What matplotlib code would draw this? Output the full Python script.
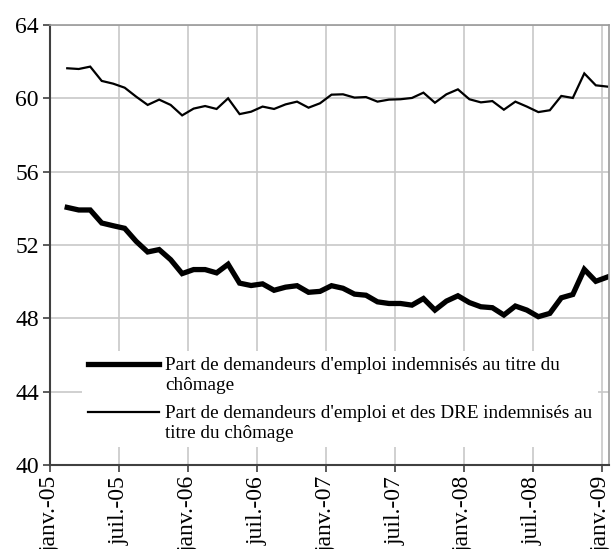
import numpy as np
import matplotlib
matplotlib.use("Agg")
import matplotlib.pyplot as plt
from matplotlib.legend_handler import HandlerLine2D

plt.rcParams['font.family'] = ['Liberation Serif', 'DejaVu Serif']

# mois depuis janv.-05 (1 = févr.-05 ... 48 = janv.-09)
mois = np.arange(1, 49)

part_indemnises = [
    54.05, 53.91, 53.91, 53.20, 53.05, 52.91, 52.20, 51.62, 51.75, 51.20,
    50.44, 50.66, 50.66, 50.48, 50.95, 49.92, 49.79, 49.88, 49.53, 49.70,
    49.78, 49.42, 49.47, 49.78, 49.64, 49.32, 49.26, 48.90, 48.81, 48.81,
    48.72, 49.08, 48.45, 48.94, 49.23, 48.86, 48.63, 48.58, 48.18, 48.67,
    48.45, 48.09, 48.27, 49.12, 49.30, 50.67, 50.02, 50.25,
]

part_indemnises_dre = [
    61.64, 61.60, 61.73, 60.95, 60.80, 60.58, 60.09, 59.64, 59.93, 59.64,
    59.07, 59.44, 59.58, 59.42, 60.00, 59.14, 59.27, 59.55, 59.42, 59.67,
    59.82, 59.49, 59.73, 60.20, 60.22, 60.04, 60.07, 59.82, 59.93, 59.95,
    60.02, 60.31, 59.76, 60.22, 60.49, 59.95, 59.78, 59.85, 59.38, 59.82,
    59.55, 59.25, 59.35, 60.13, 60.02, 61.36, 60.71, 60.64,
]

tick_mois = [0, 6, 12, 18, 24, 30, 36, 42, 48]
tick_labels = ['janv.-05', 'juil.-05', 'janv.-06', 'juil.-06', 'janv.-07',
               'juil.-07', 'janv.-08', 'juil.-08', 'janv.-09']

label1 = "Part de demandeurs d'emploi indemnisés au titre du\nchômage"
label2 = "Part de demandeurs d'emploi et des DRE indemnisés au\ntitre du chômage"

LEG_FS = 13.8


class HandlerPremiereLigne(HandlerLine2D):
    # place le trait du legende au niveau de la premiere ligne du texte
    def create_artists(self, legend, orig_handle, xdescent, ydescent,
                       width, height, fontsize, trans):
        arts = super().create_artists(legend, orig_handle, xdescent, ydescent,
                                      width, height, fontsize, trans)
        for a in arts:
            a.set_ydata(np.asarray(a.get_ydata()) + 0.6 * fontsize)
        return arts


fig = plt.figure(figsize=(6.13, 5.49), dpi=100)
ax = fig.add_axes([50 / 613, 1 - 465 / 549, 559 / 613, 440 / 549])

x = mois + 0.5
l1, = ax.plot(x, part_indemnises, color='black', linewidth=3.8,
              solid_joinstyle='miter', label=label1)
l2, = ax.plot(x, part_indemnises_dre, color='black', linewidth=1.6,
              solid_joinstyle='miter', label=label2)

ax.set_xlim(0, 48.65)
ax.set_ylim(40, 64)
ax.set_yticks(np.arange(40, 65, 4))
ax.set_xticks(tick_mois)
ax.set_xticklabels(tick_labels, rotation=90)

ax.grid(True, color='#c8c8c8', linewidth=1.2)
ax.set_axisbelow(True)
for side in ['top', 'right']:
    ax.spines[side].set_color('#9a9a9a')
    ax.spines[side].set_linewidth(1.2)
for side in ['left', 'bottom']:
    ax.spines[side].set_color('#404040')
    ax.spines[side].set_linewidth(1.5)

ax.tick_params(axis='both', direction='out', length=5, width=1.2,
               color='#404040', labelsize=17, pad=3)

h = HandlerPremiereLigne()
leg = ax.legend(handles=[l1, l2], loc='lower left',
                bbox_to_anchor=(0.057, 0.04), borderaxespad=0,
                fontsize=LEG_FS, handlelength=3.7, handletextpad=0.36,
                labelspacing=0.6, frameon=True, fancybox=False,
                borderpad=0.3, handler_map={l1: h, l2: h})
leg.get_frame().set_facecolor('white')
leg.get_frame().set_edgecolor('none')
leg.get_frame().set_alpha(1)

fig.savefig('out.png', dpi=100)
